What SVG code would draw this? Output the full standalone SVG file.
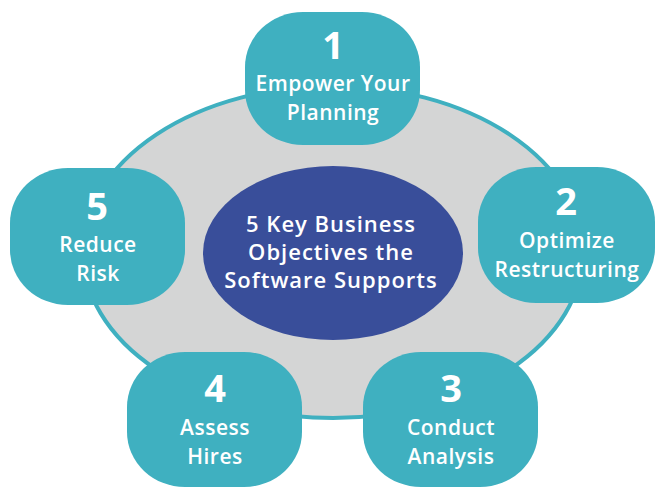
<svg xmlns="http://www.w3.org/2000/svg" width="666" height="501" viewBox="0 0 666 501">
<style>
.node{fill:#3fb0c0}
.num{font-family:"Open Sans","Liberation Sans",sans-serif;font-weight:700;font-size:38px;fill:#fff;text-anchor:middle}
.lbl{font-family:"Open Sans","Liberation Sans",sans-serif;font-weight:600;font-size:21px;letter-spacing:0.5px;fill:#fff;text-anchor:middle}
.ctr{font-family:"Open Sans","Liberation Sans",sans-serif;font-weight:600;font-size:22px;letter-spacing:1px;fill:#fff;text-anchor:middle}
</style>
<rect width="666" height="501" fill="#fff"/>
<g id="background">
<ellipse cx="333" cy="252" rx="250" ry="166" fill="#d4d5d5" stroke="#3fb0c0" stroke-width="4"/>
</g>
<g id="center">
<ellipse cx="333" cy="253" rx="130" ry="87" fill="#394e9a"/>
<text class="ctr" x="331" y="232">5 Key Business</text>
<text class="ctr" x="331" y="260">Objectives the</text>
<text class="ctr" x="331" y="288">Software Supports</text>
</g>
<g id="connectors"></g>
<g id="node1">
<rect class="node" x="245" y="12" width="175" height="133" rx="58" ry="55"/>
<text class="num" x="333" y="59">1</text>
<text class="lbl" x="333" y="91">Empower Your</text>
<text class="lbl" x="333" y="120">Planning</text>
</g>
<g id="node2">
<rect class="node" x="478" y="167" width="177" height="136" rx="58" ry="55"/>
<text class="num" x="566" y="215">2</text>
<text class="lbl" x="567" y="248">Optimize</text>
<text class="lbl" x="567" y="277">Restructuring</text>
</g>
<g id="node3">
<rect class="node" x="363" y="352" width="175" height="135" rx="58" ry="55"/>
<text class="num" x="451" y="402">3</text>
<text class="lbl" x="451" y="435">Conduct</text>
<text class="lbl" x="451" y="464">Analysis</text>
</g>
<g id="node4">
<rect class="node" x="127" y="352" width="175" height="135" rx="58" ry="55"/>
<text class="num" x="215" y="402">4</text>
<text class="lbl" x="215" y="435">Assess</text>
<text class="lbl" x="215" y="464">Hires</text>
</g>
<g id="node5">
<rect class="node" x="10" y="168" width="175" height="137" rx="58" ry="55"/>
<text class="num" x="97" y="220">5</text>
<text class="lbl" x="98" y="252">Reduce</text>
<text class="lbl" x="98" y="281">Risk</text>
</g>
</svg>
